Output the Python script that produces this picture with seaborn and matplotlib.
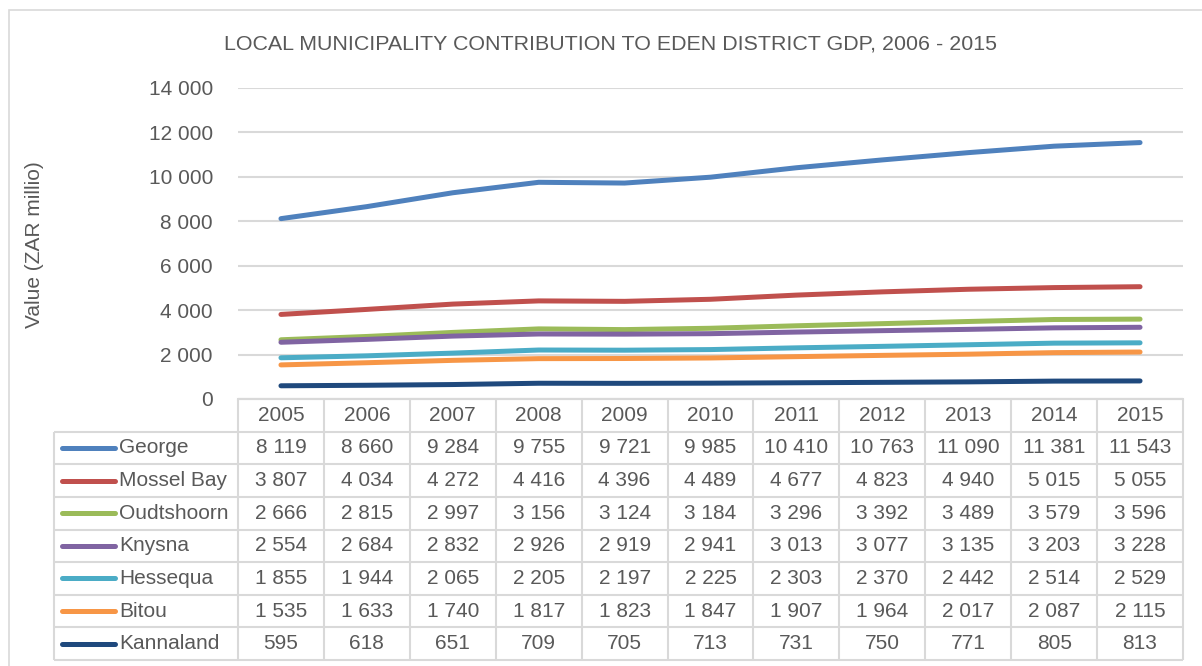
import numpy as np
import pandas as pd
import matplotlib
matplotlib.use("Agg")
import matplotlib.pyplot as plt
import seaborn as sns

years = [2005, 2006, 2007, 2008, 2009, 2010, 2011, 2012, 2013, 2014, 2015]
municipalities = ["George", "Mossel Bay", "Oudtshoorn", "Knysna", "Hessequa", "Bitou", "Kannaland"]
george = [8119, 8660, 9284, 9755, 9721, 9985, 10410, 10763, 11090, 11381, 11543]
mossel_bay = [3807, 4034, 4272, 4416, 4396, 4489, 4677, 4823, 4940, 5015, 5055]
oudtshoorn = [2666, 2815, 2997, 3156, 3124, 3184, 3296, 3392, 3489, 3579, 3596]
knysna = [2554, 2684, 2832, 2926, 2919, 2941, 3013, 3077, 3135, 3203, 3228]
hessequa = [1855, 1944, 2065, 2205, 2197, 2225, 2303, 2370, 2442, 2514, 2529]
bitou = [1535, 1633, 1740, 1817, 1823, 1847, 1907, 1964, 2017, 2087, 2115]
kannaland = [595, 618, 651, 709, 705, 713, 731, 750, 771, 805, 813]
colors = ["#4F81BD", "#C0504D", "#9BBB59", "#8064A2", "#4BACC6", "#F79646", "#1F497D"]

values = dict(zip(municipalities, [george, mossel_bay, oudtshoorn, knysna, hessequa, bitou, kannaland]))
df = pd.DataFrame([(m, y, v) for m in municipalities for y, v in zip(years, values[m])],
                  columns=["municipality", "year", "value"])

sns.set_theme(style="white")
plt.rcParams["font.family"] = ["Liberation Sans", "DejaVu Sans"]
txt = "#595959"
grid = "#D9D9D9"
fs = 15

W, H = 1202, 666
fig = plt.figure(figsize=(W / 100, H / 100), dpi=100)

def px_axes(x0, y0, x1, y1):
    return fig.add_axes([x0 / W, 1 - y1 / H, (x1 - x0) / W, (y1 - y0) / H])

# outer chart frame (only left and top edges show)
fig.add_artist(plt.Rectangle((9 / W, -0.2), 1.2, 1.2 - 10 / H, transform=fig.transFigure,
                             fill=False, edgecolor=grid, lw=1.2))

# line plot area
ax = px_axes(238, 88, 1183, 399)
sns.lineplot(data=df, x="year", y="value", hue="municipality", hue_order=municipalities,
             palette=colors, linewidth=3.6, legend=False, ax=ax, solid_capstyle="round")
ax.set_xlim(years[0] - 0.5, years[-1] + 0.5)
ax.set_ylim(0, 14000)
ax.set_yticks(np.arange(0, 14001, 2000))
ax.set_yticklabels([f"{int(v):,}".replace(",", " ") for v in ax.get_yticks()], fontsize=fs, color=txt)
ax.tick_params(axis="y", length=0, pad=18)
ax.set_xticks([])
ax.set_xlabel("")
ax.set_ylabel("")
ax.grid(axis="y", color=grid, lw=1.5)
for s in ["top", "right", "left"]:
    ax.spines[s].set_visible(False)
ax.spines["bottom"].set_color(grid)
ax.spines["bottom"].set_linewidth(1.5)

fig.text(610 / W, 1 - 44 / H, "LOCAL MUNICIPALITY CONTRIBUTION TO EDEN DISTRICT GDP, 2006 - 2015",
         ha="center", va="center", fontsize=15.4, color=txt)
fig.text(35 / W, 1 - 245 / H, "Value (ZAR millio)", rotation=90, ha="center", va="center",
         fontsize=fs, color=txt)

# data table below the plot
col_w = (1183 - 238) / len(years)
label_w = (238 - 54) / col_w
tx = px_axes(54, 399, 1183, 660)
tx.set_xlim(years[0] - 0.5 - label_w, years[-1] + 0.5)
nrows = len(municipalities) + 1
tx.set_ylim(nrows, 0)
tx.axis("off")
x_left = years[0] - 0.5 - label_w
x_data = years[0] - 0.5
x_right = years[-1] + 0.5
lk = dict(color=grid, lw=1.5, clip_on=False)
tx.hlines(0, x_data, x_right, **lk)
tx.hlines(np.arange(1, nrows + 1), x_left, x_right, **lk)
tx.vlines(x_left, 1, nrows, **lk)
tx.vlines(np.arange(len(years) + 1) + x_data, 0, nrows, **lk)
for y in years:
    tx.text(y, 0.5, str(y), ha="center", va="center", fontsize=fs, color=txt)
for i, m in enumerate(municipalities):
    r = i + 1.5
    tx.plot([x_left + 0.09, x_left + 0.71], [r, r], color=colors[i], lw=3.6, solid_capstyle="round")
    tx.text(x_left + 0.76, r, m, ha="left", va="center", fontsize=fs, color=txt)
    for y, v in zip(years, values[m]):
        tx.text(y, r, f"{v:,}".replace(",", " "), ha="center", va="center", fontsize=fs, color=txt)

fig.savefig("out.png", dpi=100, facecolor="white")
